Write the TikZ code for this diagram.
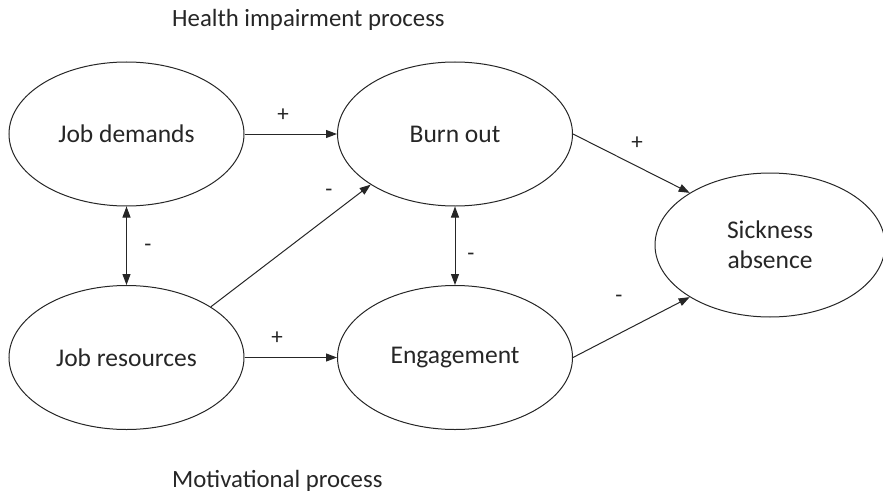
\documentclass[tikz,border=0pt]{standalone}
\usepackage{fontspec}
\setmainfont{Carlito}
\usetikzlibrary{shapes.geometric,arrows.meta}
\definecolor{ink}{HTML}{262626}
\begin{document}
\begin{tikzpicture}[x=1pt,y=-1pt,
  construct/.style={ellipse,draw=ink,line width=1pt,minimum width=235pt,minimum height=144pt,inner sep=0pt,
    text=ink,font=\fontsize{25.5}{30}\selectfont,align=center},
  link/.style={draw=ink,line width=1pt,-{Triangle[length=11pt,width=8pt]}},
  both/.style={draw=ink,line width=1pt,{Triangle[length=11pt,width=8pt]}-{Triangle[length=11pt,width=8pt]}},
  sign/.style={text=ink,font=\fontsize{23}{25}\selectfont,inner sep=0pt},
  heading/.style={text=ink,font=\fontsize{24.8}{28}\selectfont,inner sep=0pt,anchor=base west}]
\useasboundingbox (0,0) rectangle (883,495);
\begin{scope}
\clip (0,0) rectangle (883,495);
\node[construct] (jd) at (126.5,134) {Job demands};
\node[construct] (bo) at (455,134) {Burn out};
\node[construct] (jr) at (126.5,357.5) {Job resources};
\node[construct] (en) at (455,357.5) {Engagement};
\node[construct,minimum width=230pt] (sa) at (770,245) {Sickness\\absence};
\end{scope}

\draw[link] (jd.east) -- (bo.west);
\draw[link] (jr.east) -- (en.west);
\draw[link] (bo.east) -- (sa.147);
\draw[link] (en.east) -- (sa.213);
\draw[link] (jr.31) -- (bo.211);
\draw[both] (jd.south) -- (jr.north);
\draw[both] (bo.south) -- (en.north);

\node[sign] (p1) at (283,115) {+};
\node[sign] (p2) at (637,143) {+};
\node[sign] (p3) at (277,338) {+};
\node[sign] (m1) at (329,193) {-};
\node[sign] (m2) at (619,299) {-};
\node[sign] (m3) at (148,248) {-};
\node[sign] (m4) at (471,257) {-};

\node[heading] (hi) at (172,27) {Health impairment process};
\node[heading] (mp) at (172,487) {Motivational process};
\end{tikzpicture}
\end{document}
